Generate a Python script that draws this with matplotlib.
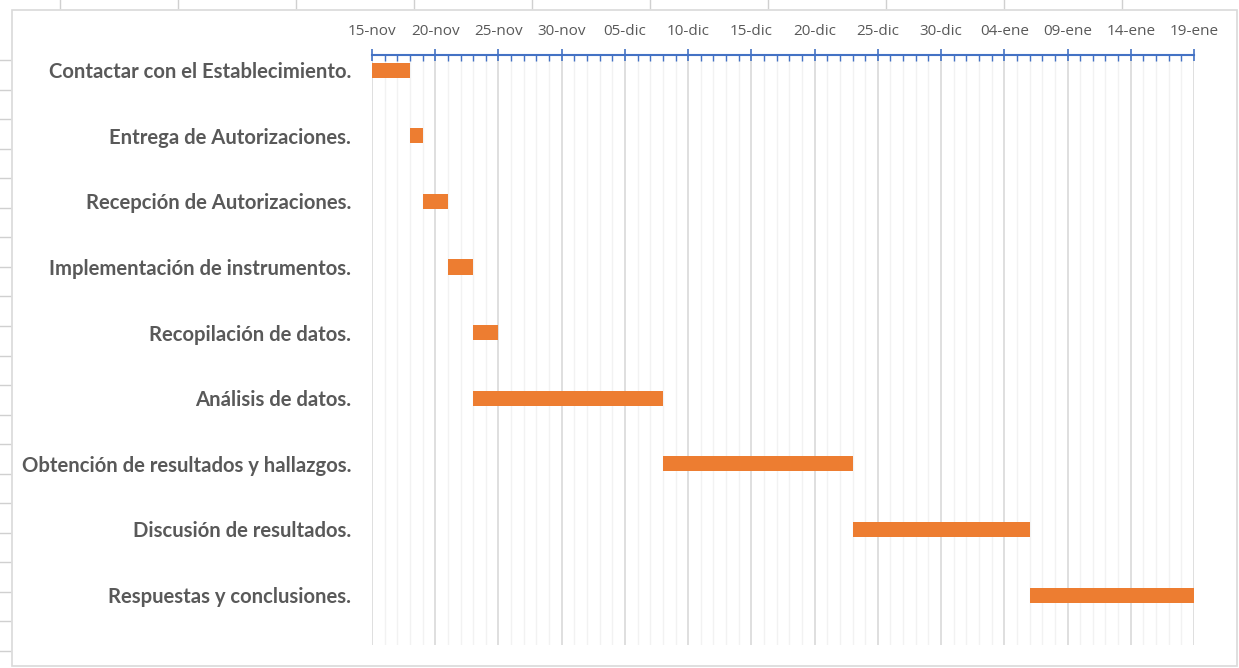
import datetime as dt
import matplotlib
matplotlib.use("Agg")
import matplotlib.pyplot as plt
import matplotlib.dates as mdates
from matplotlib.ticker import FixedLocator, FuncFormatter
from matplotlib.patches import Rectangle
from matplotlib.lines import Line2D
import numpy as np

# Gantt data
tasks = [
    "Contactar con el Establecimiento.",
    "Entrega de Autorizaciones.",
    "Recepción de Autorizaciones.",
    "Implementación de instrumentos.",
    "Recopilación de datos.",
    "Análisis de datos.",
    "Obtención de resultados y hallazgos.",
    "Discusión de resultados.",
    "Respuestas y conclusiones.",
]
start_dates = ["2019-11-15", "2019-11-18", "2019-11-19", "2019-11-21", "2019-11-23",
               "2019-11-23", "2019-12-08", "2019-12-23", "2020-01-06"]
durations = [3, 1, 2, 2, 2, 15, 15, 14, 13]

axis_start = "2019-11-15"
axis_end = "2020-01-19"

meses = ["ene", "feb", "mar", "abr", "may", "jun", "jul", "ago", "sep", "oct", "nov", "dic"]

W, H = 1239, 668
fig = plt.figure(figsize=(W / 100, H / 100), dpi=100)
fig.patch.set_facecolor("white")

# outer chart frame and spreadsheet edge marks
fig.add_artist(Rectangle((12 / W, 1 - 666 / H), (1237 - 12) / W, (666 - 10) / H,
                         transform=fig.transFigure, fill=False, edgecolor="#d9d9d9", lw=1.2))
for yy in np.arange(60, 668, 29.55):
    fig.add_artist(Line2D([0, 10 / W], [1 - yy / H] * 2, transform=fig.transFigure,
                          color="#d0d0d0", lw=1))
for xx in np.arange(60, 1239, 118):
    fig.add_artist(Line2D([xx / W] * 2, [1, 1 - 8 / H], transform=fig.transFigure,
                          color="#d0d0d0", lw=1))

ax = fig.add_axes([372 / W, 1 - 645 / H, (1194 - 372) / W, (645 - 55) / H])

starts = [mdates.date2num(dt.date.fromisoformat(s)) for s in start_dates]
y = np.arange(len(tasks))
ax.barh(y, durations, left=starts, height=0.23, color="#ED7D31", zorder=3)

x0 = mdates.date2num(dt.date.fromisoformat(axis_start))
x1 = mdates.date2num(dt.date.fromisoformat(axis_end))
ax.set_xlim(x0, x1)
ax.set_ylim(8.76, -0.23)

ax.xaxis.tick_top()
ax.xaxis.set_major_locator(FixedLocator(np.arange(x0, x1 + 0.5, 5)))
ax.xaxis.set_minor_locator(FixedLocator(np.arange(x0, x1 + 0.5, 1)))


def fmt(v, pos):
    d = mdates.num2date(v)
    return f"{d.day:02d}-{meses[d.month - 1]}"


ax.xaxis.set_major_formatter(FuncFormatter(fmt))
ax.tick_params(axis="x", which="major", direction="inout", length=9, width=1.2,
               color="#4472C4", labelsize=11, labelcolor="#595959", pad=7)
ax.tick_params(axis="x", which="minor", direction="in", length=4, width=1,
               color="#4472C4")
for lab in ax.get_xticklabels():
    lab.set_fontfamily("Open Sans")

ax.grid(axis="x", which="major", color="#d9d9d9", lw=1.2, zorder=0)
ax.grid(axis="x", which="minor", color="#f2f2f2", lw=1, zorder=0)

ax.set_yticks(y)
ax.set_yticklabels(tasks, fontfamily="Lato", fontweight="bold", fontsize=14.6, color="#595959")
ax.tick_params(axis="y", length=0, pad=15)

for side in ["left", "right", "bottom"]:
    ax.spines[side].set_visible(False)
ax.spines["top"].set_color("#4472C4")
ax.spines["top"].set_linewidth(1.5)

fig.savefig("out.png", dpi=100, facecolor="white")
